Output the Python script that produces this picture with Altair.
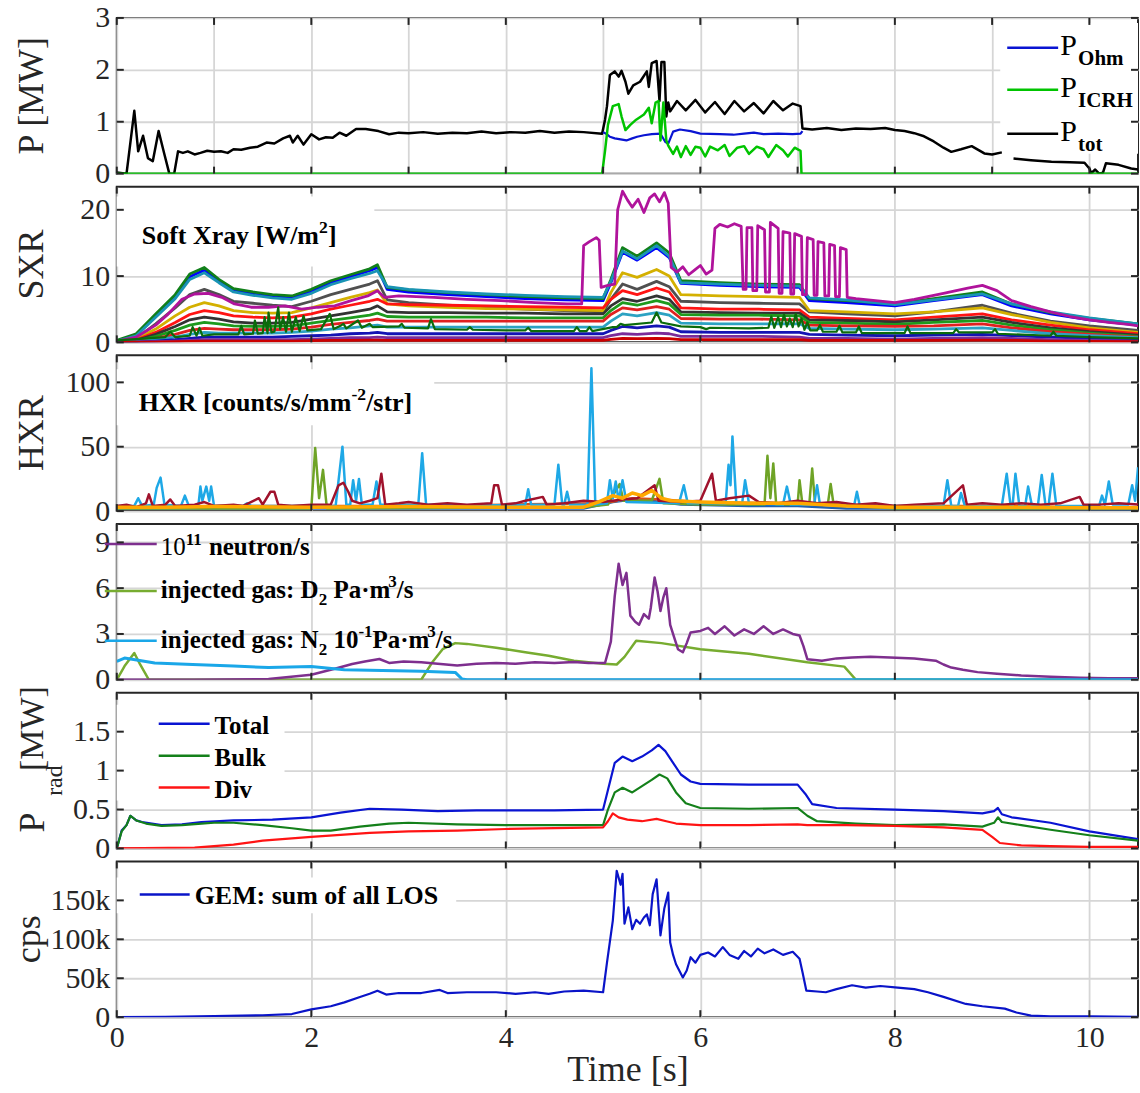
import altair as alt
import pandas as pd

FONT = "Liberation Serif"
INK = "#262626"
W, H = 1023, 156
XMAX = 10.5

# ---------------- data ----------------
# Panel 1 : heating power [MW]
P_TOT = [(0, 0.02), (0.1, 0.0), (0.12, 0.3), (0.18, 1.21), (0.22, 0.43), (0.27, 0.73), (0.32, 0.30), (0.37, 0.24),
         (0.43, 0.82), (0.49, 0.37), (0.54, 0.0), (0.59, 0.0), (0.63, 0.43), (0.68, 0.40), (0.73, 0.43), (0.8, 0.37),
         (0.86, 0.40), (0.93, 0.44), (1.0, 0.42), (1.07, 0.43), (1.14, 0.40), (1.2, 0.47), (1.28, 0.46), (1.37, 0.50),
         (1.45, 0.52), (1.54, 0.60), (1.62, 0.58), (1.71, 0.68), (1.78, 0.73), (1.81, 0.60), (1.86, 0.73), (1.92, 0.56),
         (2.0, 0.76), (2.08, 0.66), (2.15, 0.70), (2.22, 0.69), (2.29, 0.79), (2.36, 0.73), (2.46, 0.86), (2.56, 0.86),
         (2.69, 0.82), (2.8, 0.76), (2.9, 0.79), (3.0, 0.78), (3.15, 0.80), (3.3, 0.77), (3.45, 0.79), (3.6, 0.78),
         (3.75, 0.81), (3.9, 0.78), (4.05, 0.80), (4.2, 0.79), (4.35, 0.82), (4.5, 0.79), (4.65, 0.81), (4.8, 0.80),
         (4.99, 0.77), (5.02, 1.04), (5.04, 1.30), (5.07, 1.90), (5.12, 1.97), (5.16, 1.87), (5.19, 1.98), (5.23, 1.77),
         (5.26, 1.54), (5.31, 1.70), (5.38, 1.77), (5.45, 1.97), (5.47, 1.67), (5.5, 2.13), (5.55, 2.17), (5.58, 1.40),
         (5.6, 2.15), (5.63, 2.15), (5.65, 1.10), (5.67, 1.37), (5.69, 1.20), (5.76, 1.40), (5.85, 1.22), (5.95, 1.42),
         (6.05, 1.18), (6.15, 1.38), (6.25, 1.15), (6.35, 1.40), (6.45, 1.20), (6.55, 1.36), (6.65, 1.16), (6.75, 1.40),
         (6.85, 1.22), (6.95, 1.35), (7.03, 1.30), (7.05, 0.87), (7.15, 0.85), (7.3, 0.88), (7.45, 0.84), (7.6, 0.87),
         (7.75, 0.86), (7.9, 0.88), (8.0, 0.84), (8.1, 0.82), (8.2, 0.78), (8.3, 0.72), (8.4, 0.62), (8.5, 0.50),
         (8.58, 0.42), (8.68, 0.47), (8.79, 0.53), (8.92, 0.39), (9.0, 0.37), (9.1, 0.41)]
P_TOT_TAIL = [(9.22, 0.29), (9.4, 0.26), (9.61, 0.23), (9.8, 0.22), (9.95, 0.21), (10.0, 0.1), (10.02, 0.01),
              (10.06, 0.08), (10.1, 0.0), (10.14, 0.02), (10.17, 0.2), (10.3, 0.17), (10.43, 0.1), (10.5, 0.08)]
P_OHM = [(5.0, 0.8), (5.04, 0.76), (5.07, 0.71), (5.12, 0.68), (5.18, 0.66), (5.24, 0.64), (5.3, 0.68), (5.35, 0.71),
         (5.42, 0.74), (5.5, 0.76), (5.59, 0.77), (5.64, 0.61), (5.67, 0.58), (5.72, 0.81), (5.79, 0.85), (5.9, 0.82),
         (6.0, 0.77), (6.2, 0.76), (6.34, 0.75), (6.45, 0.77), (6.55, 0.79), (6.65, 0.76), (6.8, 0.77), (6.95, 0.76),
         (7.03, 0.77), (7.05, 0.82)]
P_ICRH = [(0, 0), (4.99, 0), (5.02, 0.44), (5.05, 0.94), (5.1, 1.3), (5.16, 1.34), (5.19, 1.1), (5.23, 0.84),
          (5.28, 0.94), (5.34, 1.04), (5.42, 1.14), (5.47, 1.27), (5.5, 0.97), (5.54, 1.37), (5.57, 1.4), (5.59, 0.64),
          (5.62, 1.37), (5.65, 0.64), (5.67, 0.54), (5.72, 0.38), (5.76, 0.52), (5.8, 0.32), (5.85, 0.53), (5.9, 0.36),
          (5.95, 0.52), (6.0, 0.5), (6.05, 0.33), (6.1, 0.52), (6.18, 0.45), (6.25, 0.55), (6.3, 0.34), (6.38, 0.5),
          (6.45, 0.53), (6.5, 0.38), (6.58, 0.52), (6.65, 0.47), (6.7, 0.32), (6.78, 0.55), (6.85, 0.45), (6.9, 0.33),
          (6.97, 0.5), (7.03, 0.44), (7.04, 0.0), (10.5, 0.0)]

# Panel 2 : soft X-ray channels on a common time grid
SXR_T = [0, 0.2, 0.4, 0.6, 0.75, 0.9, 1.05, 1.2, 1.4, 1.6, 1.8, 2.0, 2.2, 2.4, 2.6, 2.68, 2.78, 3.0, 3.4, 3.8,
         4.2, 4.6, 5.0, 5.08, 5.2, 5.35, 5.55, 5.68, 5.8, 6.2, 6.6, 7.02, 7.12, 7.5, 8.0, 8.4, 8.9, 9.2, 9.6, 10.0, 10.5]
SXR_BLUE = [0.2, 1.1, 4.0, 6.9, 9.9, 10.9, 9.2, 7.8, 7.3, 6.9, 6.7, 7.7, 9.0, 9.9, 10.8, 11.3, 8.0, 7.6, 7.2, 6.9,
            6.6, 6.4, 6.3, 9.0, 13.6, 12.4, 14.3, 12.8, 8.9, 8.6, 8.4, 8.3, 6.3, 6.0, 5.5, 6.3, 7.2, 5.5, 4.3, 3.4, 2.6]
SXR_GREEN = [0.3, 1.3, 4.3, 7.2, 10.3, 11.3, 9.5, 8.1, 7.6, 7.2, 7.0, 8.0, 9.3, 10.2, 11.1, 11.7, 8.3, 7.9, 7.5, 7.2,
             6.9, 6.7, 6.6, 9.5, 14.3, 13.0, 15.0, 13.5, 9.3, 9.0, 8.8, 8.7, 6.6, 6.3, 5.8, 6.6, 7.6, 5.8, 4.5, 3.6, 2.8]
SXR_TEAL = [0.2, 1.0, 3.8, 6.6, 9.5, 10.5, 9.0, 7.6, 7.1, 6.7, 6.5, 7.4, 8.7, 9.6, 10.4, 10.8, 8.4, 8.0, 7.6, 7.3,
            7.1, 6.9, 6.8, 9.2, 13.8, 12.6, 14.6, 13.0, 9.0, 8.8, 8.6, 8.5, 6.7, 6.4, 5.7, 6.4, 7.3, 5.8, 4.6, 3.7, 2.8]
SXR_GREY1 = [0.1, 0.6, 2.8, 5.2, 7.2, 8.0, 7.2, 6.2, 5.9, 5.6, 5.4, 6.2, 7.2, 8.0, 8.8, 9.3, 6.4, 6.0, 5.6, 5.3,
             5.0, 4.8, 4.6, 6.5, 8.8, 8.0, 9.2, 8.4, 6.2, 6.0, 5.9, 5.8, 4.6, 4.3, 4.0, 4.6, 5.6, 4.4, 3.2, 2.5, 1.8]
SXR_YELLOW = [0.1, 0.5, 2.0, 4.0, 5.3, 6.0, 5.5, 4.8, 4.5, 4.4, 4.5, 5.2, 6.0, 6.8, 7.5, 7.9, 5.8, 5.5, 5.3, 5.1,
              5.0, 4.9, 4.8, 7.5, 10.5, 9.8, 11.0, 10.0, 7.2, 7.0, 6.9, 6.8, 4.8, 4.6, 4.3, 4.6, 5.2, 4.2, 3.0, 2.2, 1.5]
SXR_RED1 = [0.1, 0.4, 1.5, 3.0, 4.2, 4.8, 4.5, 4.0, 3.8, 3.7, 3.8, 4.3, 5.0, 5.6, 6.2, 6.5, 5.8, 5.7, 5.6, 5.5,
            5.4, 5.3, 5.2, 6.5, 7.8, 7.2, 8.2, 7.6, 5.2, 5.0, 5.0, 4.9, 3.8, 3.6, 3.4, 3.8, 4.3, 3.4, 2.6, 1.9, 1.3]
SXR_GREY2 = [0.1, 0.3, 1.2, 2.4, 3.4, 3.8, 3.5, 3.1, 2.9, 2.9, 3.0, 3.5, 4.0, 4.5, 5.0, 5.5, 4.6, 4.5, 4.5, 4.4,
             4.4, 4.3, 4.3, 5.5, 6.6, 6.2, 7.0, 6.5, 4.6, 4.5, 4.4, 4.4, 3.4, 3.3, 3.1, 3.4, 3.8, 3.0, 2.2, 1.6, 1.1]
SXR_GREEN2 = [0.05, 0.2, 0.9, 1.8, 2.6, 3.0, 2.8, 2.5, 2.4, 2.4, 2.5, 2.9, 3.3, 3.7, 4.1, 4.4, 3.9, 3.8, 3.8, 3.8,
              3.7, 3.7, 3.7, 4.8, 6.0, 5.6, 6.3, 5.8, 4.2, 4.1, 4.1, 4.0, 3.0, 2.9, 2.7, 3.0, 3.3, 2.6, 1.9, 1.4, 0.9]
SXR_RED2 = [0.05, 0.15, 0.6, 1.2, 1.8, 2.1, 2.0, 1.9, 1.9, 1.9, 2.0, 2.3, 2.7, 3.0, 3.3, 3.5, 3.2, 3.2, 3.2, 3.2,
            3.2, 3.2, 3.2, 4.2, 5.2, 4.9, 5.4, 5.0, 3.6, 3.5, 3.5, 3.4, 2.6, 2.5, 2.4, 2.5, 2.8, 2.2, 1.6, 1.2, 0.8]
SXR_TEAL2 = [0.03, 0.1, 0.4, 0.8, 1.2, 1.5, 1.4, 1.4, 1.4, 1.4, 1.5, 1.7, 2.0, 2.2, 2.5, 2.6, 2.3, 2.3, 2.3, 2.3,
             2.3, 2.3, 2.3, 3.2, 4.3, 4.0, 4.5, 4.1, 2.9, 2.8, 2.8, 2.8, 2.1, 2.0, 1.9, 2.0, 2.2, 1.8, 1.3, 1.0, 0.7]
SXR_BLUE2 = [0.02, 0.05, 0.2, 0.4, 0.6, 0.8, 0.8, 0.8, 0.8, 0.8, 0.9, 1.0, 1.1, 1.3, 1.4, 1.5, 1.3, 1.3, 1.3, 1.3,
             1.3, 1.3, 1.3, 1.8, 2.4, 2.2, 2.5, 2.3, 1.6, 1.5, 1.5, 1.5, 1.2, 1.1, 1.0, 1.1, 1.2, 1.0, 0.8, 0.6, 0.4]
SXR_PURPLE = [0.01, 0.03, 0.1, 0.2, 0.3, 0.4, 0.4, 0.4, 0.4, 0.4, 0.4, 0.5, 0.6, 0.7, 0.7, 0.8, 0.7, 0.7, 0.7, 0.7,
              0.7, 0.7, 0.7, 1.0, 1.3, 1.2, 1.4, 1.3, 0.9, 0.9, 0.9, 0.8, 0.6, 0.6, 0.5, 0.6, 0.7, 0.6, 0.4, 0.3, 0.2]
SXR_RED3 = [0.0, 0.02, 0.05, 0.1, 0.15, 0.2, 0.2, 0.2, 0.2, 0.2, 0.2, 0.25, 0.3, 0.3, 0.35, 0.35, 0.3, 0.3, 0.3, 0.3,
            0.3, 0.3, 0.3, 0.45, 0.6, 0.55, 0.6, 0.55, 0.4, 0.4, 0.4, 0.4, 0.3, 0.3, 0.3, 0.3, 0.35, 0.3, 0.2, 0.15, 0.1]
SXR_MAGENTA = [(0, 0.2), (0.2, 0.8), (0.4, 2.6), (0.53, 4.3), (0.67, 6.5), (0.8, 7.3), (0.94, 7.4), (1.08, 6.8),
               (1.21, 5.8), (1.38, 5.3), (1.56, 5.3), (1.73, 5.5), (1.9, 5.0), (2.07, 5.3), (2.24, 5.5), (2.41, 6.3),
               (2.58, 7.0), (2.68, 7.8), (2.75, 6.8), (2.9, 7.0), (3.26, 6.8), (3.6, 6.5), (3.95, 6.3), (4.3, 6.0),
               (4.63, 5.8), (4.78, 5.8), (4.8, 14.6), (4.86, 15.2), (4.93, 15.8), (4.96, 15.4), (4.98, 8.3),
               (5.05, 8.6), (5.12, 8.8), (5.15, 20.0), (5.2, 22.8), (5.25, 21.5), (5.3, 20.4), (5.36, 21.6),
               (5.42, 19.6), (5.48, 21.8), (5.53, 22.4), (5.58, 21.2), (5.63, 22.6), (5.67, 21.0), (5.7, 11.3),
               (5.76, 10.6), (5.82, 11.4), (5.88, 10.2), (5.94, 10.9), (6.0, 11.6), (6.06, 10.3), (6.12, 10.9),
               (6.15, 17.2), (6.2, 17.8), (6.28, 17.4), (6.35, 17.9), (6.42, 17.5), (6.44, 8.0), (6.47, 8.0),
               (6.48, 17.3), (6.53, 17.3), (6.54, 7.8), (6.58, 7.8), (6.59, 17.6), (6.66, 17.0), (6.67, 7.6),
               (6.71, 7.6), (6.72, 18.1), (6.8, 17.2), (6.81, 7.4), (6.84, 7.4), (6.85, 16.7), (6.92, 16.5),
               (6.93, 7.3), (6.96, 7.3), (6.97, 16.4), (7.04, 16.0), (7.05, 7.2), (7.09, 7.2), (7.1, 15.8),
               (7.16, 15.5), (7.17, 7.1), (7.2, 7.1), (7.21, 15.2), (7.27, 15.0), (7.28, 7.0), (7.32, 7.0),
               (7.33, 14.8), (7.38, 14.6), (7.39, 6.9), (7.43, 6.9), (7.44, 14.3), (7.5, 14.0), (7.51, 6.8),
               (7.6, 6.6), (7.8, 6.3), (8.0, 6.0), (8.2, 6.5), (8.5, 7.4), (8.75, 8.2), (8.9, 8.6), (9.05, 7.8),
               (9.2, 6.3), (9.4, 5.4), (9.6, 4.6), (9.8, 3.9), (10.0, 3.4), (10.2, 3.0), (10.4, 2.7), (10.5, 2.5)]
SXR_SPIKY = [(0, 0.3), (0.5, 0.8), (0.55, 1.6), (0.6, 0.8), (0.75, 1.0), (0.78, 2.3), (0.82, 1.0), (0.85, 2.2),
             (0.88, 1.0), (1.0, 1.2), (1.25, 1.2), (1.28, 2.5), (1.31, 1.2), (1.4, 1.3), (1.42, 3.3), (1.45, 1.3),
             (1.5, 1.4), (1.52, 3.8), (1.55, 1.4), (1.56, 4.5), (1.59, 1.5), (1.62, 1.6), (1.66, 5.3), (1.68, 2.0),
             (1.71, 3.8), (1.74, 1.6), (1.77, 4.5), (1.8, 1.6), (1.84, 3.8), (1.88, 1.7), (1.92, 4.0), (1.96, 1.8),
             (2.1, 2.0), (2.19, 4.3), (2.23, 2.0), (2.3, 2.5), (2.33, 2.8), (2.36, 2.1), (2.48, 3.3), (2.52, 2.2),
             (2.6, 2.8), (2.63, 2.3), (2.9, 2.4), (2.93, 2.8), (2.96, 2.2), (3.2, 2.1), (3.23, 3.5), (3.27, 2.0),
             (3.6, 1.9), (3.63, 2.3), (3.66, 1.9), (4.0, 1.8), (4.2, 1.8), (4.23, 2.2), (4.26, 1.7), (4.7, 1.7),
             (4.73, 2.3), (4.76, 1.7), (4.83, 1.7), (4.86, 2.3), (4.89, 1.7), (5.1, 2.3), (5.14, 2.3), (5.18, 2.8),
             (5.22, 2.6), (5.5, 3.0), (5.55, 4.5), (5.6, 3.0), (5.8, 2.4), (6.0, 2.3), (6.06, 2.0), (6.1, 2.2),
             (6.5, 2.1), (6.7, 2.2), (6.73, 3.9), (6.76, 2.2), (6.8, 3.8), (6.83, 2.3), (6.86, 4.2), (6.89, 2.4),
             (6.92, 3.6), (6.95, 2.3), (6.98, 4.3), (7.01, 2.4), (7.04, 3.6), (7.07, 1.9), (7.1, 3.0), (7.13, 1.8),
             (7.2, 1.8), (7.23, 2.6), (7.26, 1.6), (7.4, 1.6), (7.43, 2.5), (7.46, 1.5), (7.6, 1.5), (7.63, 2.4),
             (7.66, 1.4), (8.1, 1.4), (8.13, 2.4), (8.16, 1.4), (8.6, 1.4), (8.63, 2.0), (8.66, 1.5), (9.0, 1.5),
             (9.03, 2.0), (9.06, 1.3), (9.6, 1.0), (9.63, 1.6), (9.66, 1.0), (10.0, 0.8), (10.5, 0.6)]

# Panel 3 : hard X-ray
HXR_LIGHTBLUE = [(0, 4), (0.18, 4), (0.22, 10), (0.26, 4), (0.38, 5), (0.41, 18), (0.45, 26), (0.49, 5), (0.66, 4),
                 (0.7, 12), (0.74, 4), (0.84, 5), (0.86, 19), (0.88, 8), (0.92, 19), (0.95, 8), (0.97, 19), (1.0, 4),
                 (1.3, 4), (1.34, 6), (1.38, 4), (2.25, 4), (2.32, 50), (2.36, 5), (2.4, 5), (2.43, 24), (2.46, 8),
                 (2.49, 25), (2.52, 5), (2.63, 5), (2.67, 23), (2.71, 5), (3.1, 5), (3.14, 45), (3.18, 5), (3.4, 5),
                 (3.5, 4), (4.2, 5), (4.23, 17), (4.26, 5), (4.5, 5), (4.54, 36), (4.58, 5), (4.6, 5), (4.63, 15),
                 (4.66, 5), (4.84, 5), (4.88, 111), (4.92, 5), (5.04, 6), (5.07, 24), (5.1, 10), (5.13, 23), (5.16, 8),
                 (5.2, 24), (5.24, 7), (5.78, 6), (5.83, 20), (5.87, 6), (6.26, 6), (6.29, 36), (6.31, 20), (6.33, 58),
                 (6.37, 6), (6.43, 6), (6.46, 24), (6.5, 6), (6.85, 5), (6.89, 19), (6.93, 5), (7.17, 5), (7.2, 20),
                 (7.23, 5), (7.58, 4), (7.61, 15), (7.64, 4), (8.5, 4), (8.54, 24), (8.58, 4), (8.65, 4), (8.68, 14),
                 (8.72, 4), (9.1, 4), (9.15, 29), (9.19, 4), (9.21, 4), (9.24, 29), (9.28, 4), (9.34, 4), (9.37, 19),
                 (9.41, 4), (9.47, 4), (9.51, 28), (9.55, 4), (9.58, 4), (9.62, 29), (9.66, 4), (10.1, 4), (10.13, 12),
                 (10.16, 5), (10.2, 23), (10.24, 5), (10.4, 5), (10.44, 20), (10.47, 8), (10.5, 34)]
HXR_DARKRED = [(0, 4), (0.1, 5), (0.2, 3), (0.3, 6), (0.33, 13), (0.37, 4), (0.5, 5), (0.55, 9), (0.6, 4), (0.8, 5),
               (0.9, 7), (1.0, 4), (1.2, 5), (1.3, 4), (1.46, 10), (1.5, 5), (1.58, 15), (1.62, 15), (1.66, 5),
               (1.8, 4), (2.0, 5), (2.2, 5), (2.28, 20), (2.33, 22), (2.38, 15), (2.42, 8), (2.5, 6), (2.6, 8),
               (2.68, 10), (2.72, 29), (2.76, 5), (2.9, 6), (3.0, 7), (3.2, 5), (3.4, 6), (3.6, 5), (3.85, 6),
               (3.88, 20), (3.92, 20), (3.96, 5), (4.1, 6), (4.2, 8), (4.38, 11), (4.42, 5), (4.6, 6), (4.8, 8),
               (5.0, 7), (5.2, 9), (5.35, 10), (5.53, 20), (5.57, 8), (5.8, 7), (6.0, 8), (6.12, 29), (6.16, 8),
               (6.3, 10), (6.5, 12), (6.6, 7), (6.8, 6), (7.0, 8), (7.2, 6), (7.4, 7), (7.6, 5), (7.8, 6), (8.0, 4),
               (8.2, 5), (8.5, 6), (8.7, 20), (8.74, 5), (8.9, 6), (9.1, 5), (9.3, 6), (9.5, 5), (9.7, 6), (9.9, 11),
               (9.94, 5), (10.1, 5), (10.3, 6), (10.5, 5)]
HXR_GREEN = [(0, 2), (2.0, 2), (2.04, 49), (2.08, 10), (2.12, 32), (2.16, 2), (4.8, 3), (5.05, 5), (5.1, 12),
             (5.17, 21), (5.21, 8), (5.5, 8), (5.58, 25), (5.62, 6), (6.0, 5), (6.66, 5), (6.69, 43), (6.72, 10),
             (6.75, 37), (6.78, 5), (7.0, 5), (7.02, 24), (7.05, 5), (7.12, 5), (7.15, 33), (7.18, 5), (7.31, 5),
             (7.34, 21), (7.37, 5), (8.0, 2), (10.5, 2)]
HXR_REDORANGE = [(0, 3), (1, 4), (2, 4), (3, 4), (4, 5), (5, 6), (5.3, 10), (5.6, 9), (6, 7), (7, 6), (8, 4),
                 (9, 4), (10, 3), (10.5, 3)]
HXR_BLUE = [(0, 2), (4.8, 2), (5.1, 7), (5.3, 9), (5.5, 8), (5.8, 5), (6.5, 4), (7, 4), (7.5, 2), (10.5, 1.5)]
HXR_ORANGE = [(0, 3), (0.5, 3), (1, 3.5), (2, 3), (3, 3.5), (4, 3), (4.8, 3), (4.95, 7), (5.1, 12), (5.2, 10),
              (5.3, 14), (5.4, 12), (5.5, 16), (5.6, 10), (5.7, 8), (6.0, 7), (6.5, 6), (7.0, 6), (7.5, 4), (8, 3),
              (9, 3), (10, 2.5), (10.5, 2.5)]

# Panel 4 : neutrons and gas injection
NEUTRON = [(0, 0), (0.8, 0), (1.56, 0.05), (2.0, 0.33), (2.27, 0.77), (2.42, 1.03), (2.55, 1.2), (2.7, 1.36),
           (2.8, 1.1), (2.95, 1.2), (3.13, 1.14), (3.3, 1.05), (3.5, 0.94), (3.7, 1.05), (3.9, 1.1), (4.1, 1.05),
           (4.3, 1.15), (4.5, 1.1), (4.7, 1.16), (4.85, 1.1), (5.02, 1.1), (5.08, 2.5), (5.12, 5.5), (5.16, 7.6),
           (5.2, 6.2), (5.24, 7.0), (5.28, 4.2), (5.33, 3.8), (5.37, 3.6), (5.42, 4.3), (5.47, 4.0), (5.49, 4.7),
           (5.53, 6.7), (5.56, 5.8), (5.59, 4.5), (5.62, 5.4), (5.65, 6.0), (5.69, 3.6), (5.73, 2.8), (5.77, 2.0),
           (5.82, 1.8), (5.86, 2.4), (5.9, 3.1), (6.0, 3.2), (6.08, 3.4), (6.15, 3.0), (6.25, 3.5), (6.35, 2.9),
           (6.45, 3.3), (6.55, 3.0), (6.65, 3.5), (6.75, 3.0), (6.85, 3.3), (6.95, 3.0), (7.02, 2.9), (7.06, 2.2),
           (7.1, 1.35), (7.25, 1.25), (7.4, 1.4), (7.56, 1.46), (7.75, 1.5), (7.95, 1.46), (8.2, 1.4), (8.42, 1.25),
           (8.5, 1.0), (8.58, 0.8), (8.7, 0.65), (8.85, 0.5), (9.05, 0.4), (9.3, 0.28), (9.6, 0.2), (9.9, 0.13),
           (10.2, 0.1), (10.5, 0.1)]
GAS_D2 = [(0, 0), (0.08, 0.9), (0.18, 1.75), (0.24, 1.0), (0.33, 0), (3.13, 0), (3.25, 1.2), (3.35, 2.0),
          (3.48, 2.4), (3.6, 2.35), (3.9, 2.1), (4.2, 1.8), (4.44, 1.57), (4.7, 1.25), (5.0, 1.05), (5.14, 1.0),
          (5.22, 1.5), (5.34, 2.55), (5.6, 2.4), (6.0, 2.0), (6.5, 1.7), (7.1, 1.14), (7.48, 0.86), (7.6, 0),
          (9.95, 0), (10.0, 0.15), (10.05, 0), (10.5, 0)]
GAS_N2 = [(0, 1.2), (0.08, 1.42), (0.39, 1.1), (0.78, 1.0), (1.2, 0.9), (1.56, 0.8), (2.0, 0.87), (2.34, 0.65),
          (2.73, 0.6), (3.13, 0.55), (3.48, 0.48), (3.55, 0.05), (3.6, 0), (10.5, 0)]

# Panel 5 : radiated power [MW]
PRAD_TOTAL = [(0, 0), (0.05, 0.23), (0.1, 0.3), (0.14, 0.42), (0.2, 0.36), (0.26, 0.34), (0.46, 0.3), (0.67, 0.31),
              (0.87, 0.34), (1.2, 0.36), (1.6, 0.37), (2.0, 0.4), (2.3, 0.46), (2.6, 0.51), (2.93, 0.5), (3.3, 0.48),
              (3.7, 0.49), (4.1, 0.49), (4.5, 0.49), (5.0, 0.5), (5.05, 0.75), (5.12, 1.1), (5.2, 1.18), (5.3, 1.12),
              (5.4, 1.18), (5.5, 1.26), (5.57, 1.33), (5.64, 1.25), (5.72, 1.1), (5.8, 0.95), (5.9, 0.86), (6.0, 0.83),
              (6.5, 0.82), (7.0, 0.82), (7.08, 0.7), (7.15, 0.57), (7.4, 0.52), (8.0, 0.5), (8.5, 0.48), (8.9, 0.45),
              (9.02, 0.48), (9.06, 0.52), (9.1, 0.44), (9.2, 0.4), (9.6, 0.33), (10.0, 0.22), (10.5, 0.12)]
PRAD_BULK = [(0, 0), (0.05, 0.22), (0.1, 0.3), (0.14, 0.42), (0.2, 0.36), (0.3, 0.32), (0.46, 0.29), (0.67, 0.3),
             (0.87, 0.32), (1.0, 0.33), (1.2, 0.33), (1.5, 0.3), (1.8, 0.26), (2.0, 0.23), (2.2, 0.23), (2.5, 0.28),
             (2.8, 0.32), (3.0, 0.33), (3.5, 0.31), (4.0, 0.3), (4.5, 0.3), (5.0, 0.3), (5.05, 0.5), (5.12, 0.72),
             (5.2, 0.78), (5.3, 0.72), (5.4, 0.8), (5.5, 0.88), (5.58, 0.95), (5.66, 0.9), (5.75, 0.72), (5.85, 0.58),
             (6.0, 0.52), (6.5, 0.51), (7.0, 0.52), (7.1, 0.42), (7.2, 0.35), (7.6, 0.32), (8.0, 0.3), (8.5, 0.31),
             (8.9, 0.28), (9.02, 0.33), (9.06, 0.4), (9.1, 0.34), (9.3, 0.3), (9.6, 0.24), (10.0, 0.17), (10.5, 0.1)]
PRAD_DIV = [(0, 0), (0.8, 0.01), (1.2, 0.05), (1.5, 0.1), (2.0, 0.15), (2.6, 0.2), (3.0, 0.22), (3.5, 0.23),
            (4.0, 0.25), (4.5, 0.26), (5.0, 0.27), (5.05, 0.35), (5.1, 0.45), (5.16, 0.4), (5.25, 0.37), (5.4, 0.35),
            (5.55, 0.38), (5.65, 0.35), (5.75, 0.32), (6.0, 0.3), (6.5, 0.3), (7.0, 0.31), (7.1, 0.3), (7.5, 0.3),
            (8.0, 0.29), (8.5, 0.27), (8.9, 0.24), (9.0, 0.15), (9.08, 0.07), (9.3, 0.04), (9.6, 0.03), (10.0, 0.02),
            (10.5, 0.02)]

# Panel 6 : GEM counts [k cps]
GEM = [(0, 0), (0.5, 0.5), (1.0, 1.5), (1.5, 2.5), (1.8, 4), (2.0, 10), (2.2, 14), (2.34, 19), (2.5, 26), (2.6, 30),
       (2.68, 34), (2.77, 29), (2.9, 31), (3.13, 31), (3.32, 35), (3.4, 31), (3.6, 32), (3.9, 32), (4.1, 30),
       (4.3, 32), (4.44, 30), (4.6, 33), (4.8, 34), (5.0, 32), (5.04, 70), (5.1, 124), (5.14, 188), (5.18, 170),
       (5.2, 184), (5.22, 120), (5.26, 141), (5.3, 113), (5.34, 125), (5.38, 120), (5.42, 128), (5.45, 132),
       (5.48, 118), (5.51, 158), (5.55, 177), (5.59, 105), (5.63, 140), (5.67, 160), (5.69, 96), (5.72, 80),
       (5.75, 68), (5.82, 51), (5.86, 60), (5.9, 77), (5.95, 70), (6.0, 80), (6.08, 83), (6.15, 78), (6.23, 90),
       (6.3, 80), (6.39, 75), (6.45, 85), (6.52, 78), (6.59, 88), (6.66, 82), (6.75, 87), (6.85, 80), (6.95, 84),
       (7.02, 75), (7.05, 58), (7.09, 34), (7.2, 33), (7.29, 32), (7.4, 36), (7.56, 41), (7.7, 38), (7.85, 40),
       (8.03, 38), (8.2, 36), (8.34, 32), (8.5, 26), (8.73, 17), (8.9, 14), (9.13, 11), (9.25, 6), (9.4, 2),
       (9.6, 1), (10.0, 1), (10.5, 0.5)]

X_TICKS_1 = [0, 1, 2, 3, 4, 5, 6, 7, 8, 9, 10]
X_TICKS_2 = [0, 2, 4, 6, 8, 10]

# ---------------- helpers ----------------
ONE = pd.DataFrame({"a": [0]})

TB = {' ': 250, ':': 333, '/': 278, '[': 333, ']': 333, '-': 333, '·': 250, '.': 250,
      'a': 500, 'b': 556, 'c': 444, 'd': 556, 'e': 444, 'f': 333, 'g': 500, 'h': 556, 'i': 278, 'j': 333,
      'k': 556, 'l': 278, 'm': 833, 'n': 556, 'o': 500, 'p': 556, 'q': 556, 'r': 444, 's': 389, 't': 333,
      'u': 556, 'v': 500, 'w': 722, 'x': 500, 'y': 500, 'z': 444,
      'A': 722, 'B': 667, 'C': 722, 'D': 722, 'E': 667, 'G': 778, 'H': 778, 'I': 389, 'L': 667, 'M': 944,
      'N': 722, 'O': 778, 'P': 611, 'R': 722, 'S': 556, 'T': 667, 'W': 1000, 'X': 722}


def twidth(s, size, bold=True):
    if not bold:
        return sum(500 if ch.isdigit() else TB.get(ch, 500) for ch in s) / 1000 * size
    return sum(TB.get(ch, 500) for ch in s) / 1000 * size


def xch(labels=False, values=X_TICKS_2):
    ax = dict(values=values, labels=labels, labelFlush=False, labelPadding=5, grid=True, ticks=False,
              domain=False, titlePadding=0)
    return alt.X("t:Q", scale=alt.Scale(domain=[0, XMAX], nice=False, zero=False), axis=alt.Axis(**ax),
                 title=("Time [s]" if labels else None))


def ych(top, values, **extra):
    ax = dict(values=values, labelPadding=7, grid=True, ticks=False, domain=False)
    ax.update(extra)
    return alt.Y("v:Q", scale=alt.Scale(domain=[0, top], nice=False, zero=False), axis=alt.Axis(**ax), title=None)


def line(pairs, color, width, X, Y):
    df = pd.DataFrame(pairs, columns=["t", "v"])
    df["i"] = range(len(df))
    return alt.Chart(df).mark_line(color=color, strokeWidth=width, clip=True, strokeJoin="round").encode(
        x=X, y=Y, order="i:Q")


def grid_line(values, color, width, X, Y):
    return line(list(zip(SXR_T, values)), color, width, X, Y)


def text(s, x, y, size, bold=False, angle=0, align="left", baseline="alphabetic", color="#000000"):
    kw = dict(text=s, font=FONT, fontSize=size, fontWeight=("bold" if bold else "normal"), color=color,
              align=align, baseline=baseline)
    if angle:
        kw["angle"] = angle
    return alt.Chart(ONE).mark_text(**kw).encode(x=alt.value(x), y=alt.value(y))


def rich(parts, x, y, size):
    """Place text pieces one after another (normal / superscript / subscript)."""
    layers = []
    for part in parts:
        s, kind = part[0], part[1]
        bold = part[2] if len(part) > 2 else True
        fs = size if kind == "n" else size * 0.68
        yy = y if kind == "n" else (y - size * 0.42 if kind == "sup" else y + size * 0.3)
        lead = len(s) - len(s.lstrip(" "))
        x += twidth(" " * lead, fs, bold)
        s = s.lstrip(" ")
        layers.append(text(s, x, yy, fs, bold=bold))
        x += twidth(s, fs, bold)
    return layers


def box(x1, x2, y1, y2):
    return alt.Chart(ONE).mark_rect(color="white").encode(
        x=alt.value(x1), x2=alt.value(x2), y=alt.value(y1), y2=alt.value(y2))


def seg(x1, x2, y, color, width=2.5):
    return alt.Chart(ONE).mark_rule(color=color, strokeWidth=width).encode(
        x=alt.value(x1), x2=alt.value(x2), y=alt.value(y))


def inner_ticks(xvals, yvals, X, Y, L=7):
    dx = pd.DataFrame({"t": xvals})
    dy = pd.DataFrame({"v": yvals})
    m = dict(color=INK, strokeWidth=2)
    return [
        alt.Chart(dx).mark_rule(**m).encode(x=X, y=alt.value(0), y2=alt.value(L)),
        alt.Chart(dx).mark_rule(**m).encode(x=X, y=alt.value(H), y2=alt.value(H - L)),
        alt.Chart(dy).mark_rule(**m).encode(y=Y, x=alt.value(0), x2=alt.value(L)),
        alt.Chart(dy).mark_rule(**m).encode(y=Y, x=alt.value(W), x2=alt.value(W - L)),
    ]


def ytitle(s, x=-85):
    return text(s, x, H / 2, 36, angle=270, align="center", baseline="middle", color=INK)


# ---------------- panel 1 ----------------
X1 = xch(values=X_TICKS_1)
Y1 = ych(3, [0, 1, 2, 3])
p1 = [box(885, W, 5, 136),
      line(P_TOT, "#000000", 2.5, X1, Y1), line(P_TOT_TAIL, "#000000", 2.5, X1, Y1),
      line(P_OHM, "#0a14d2", 2.2, X1, Y1), line(P_ICRH, "#00c400", 2.5, X1, Y1),
      ytitle("P [MW]")]
for ry, sub, col in [(30, "Ohm", "#0a14d2"), (72, "ICRH", "#00c400"), (116, "tot", "#000000")]:
    p1.append(seg(892, 943, ry, col))
    p1.append(text("P", 945, ry + 7, 30))
    p1.append(text(sub, 963, ry + 17, 21, bold=True))
p1 += inner_ticks(X_TICKS_1, [0, 1, 2, 3], X1, Y1)

# ---------------- panel 2 ----------------
X2 = xch()
Y2 = ych(23.5, [0, 10, 20])
p2 = [box(0, 258, 10, 80)]
for vals, col in [(SXR_BLUE, "#0000ff"), (SXR_GREEN, "#11801a"), (SXR_TEAL, "#1994b4"), (SXR_GREY1, "#505050"),
                  (SXR_YELLOW, "#d4b000"), (SXR_RED1, "#ff1414"), (SXR_GREY2, "#333333"),
                  (SXR_GREEN2, "#1d9a1d"), (SXR_RED2, "#e02020"), (SXR_TEAL2, "#2ca2c2"),
                  (SXR_BLUE2, "#1414b4"), (SXR_PURPLE, "#7b2c9a"), (SXR_RED3, "#cc0000")]:
    p2.append(grid_line(vals, col, 2.8, X2, Y2))
p2.append(line(SXR_MAGENTA, "#b0139b", 2.8, X2, Y2))
p2.append(line(SXR_SPIKY, "#0b6b0b", 2.2, X2, Y2))
p2 += rich([("Soft Xray [W/m", "n"), ("2", "sup"), ("]", "n")], 25, 57, 26)
p2.append(ytitle("SXR"))
p2 += inner_ticks(X_TICKS_2, [0, 10, 20], X2, Y2)

# ---------------- panel 3 ----------------
X3 = xch()
Y3 = ych(121, [0, 50, 100])
p3 = [box(0, 318, 14, 70),
      line(HXR_BLUE, "#2060b0", 2.5, X3, Y3), line(HXR_REDORANGE, "#d95319", 2.5, X3, Y3),
      line(HXR_GREEN, "#6ea326", 2.5, X3, Y3), line(HXR_LIGHTBLUE, "#1ea8e6", 2.5, X3, Y3),
      line(HXR_DARKRED, "#a0122c", 2.5, X3, Y3), line(HXR_ORANGE, "#ffa800", 3.5, X3, Y3)]
p3 += rich([("HXR [counts/s/mm", "n"), ("-2", "sup"), ("/str]", "n")], 22, 56, 26)
p3.append(ytitle("HXR"))
p3 += inner_ticks(X_TICKS_2, [0, 50, 100], X3, Y3)

# ---------------- panel 4 ----------------
X4 = xch()
Y4 = ych(10.2, [0, 3, 6, 9])
p4 = [line(GAS_D2, "#77ac30", 2.5, X4, Y4), line(NEUTRON, "#7e2f8e", 2.5, X4, Y4),
      line(GAS_N2, "#1aa7e8", 3, X4, Y4)]
p4.append(seg(-12, 40, 20, "#7e2f8e"))
p4.append(seg(-12, 40, 67, "#77ac30"))
p4.append(seg(-12, 40, 117, "#1aa7e8"))
p4 += rich([("10", "n", False), ("11", "sup"), (" neutron/s", "n")], 44, 31, 25)
p4 += rich([("injected gas: D", "n"), ("2", "sub"), (" Pa·m", "n"), ("3", "sup"), ("/s", "n")], 44, 74, 25)
p4 += rich([("injected gas: N", "n"), ("2", "sub"), (" 10", "n"), ("-1", "sup"), ("Pa·m", "n"), ("3", "sup"),
            ("/s", "n")], 44, 124, 25)
p4 += inner_ticks(X_TICKS_2, [0, 3, 6, 9], X4, Y4)

# ---------------- panel 5 ----------------
X5 = xch()
Y5 = ych(2.0, [0, 0.5, 1, 1.5], format="~g")
p5 = [box(0, 168, 12, 108),
      line(PRAD_TOTAL, "#0a14d2", 2.2, X5, Y5), line(PRAD_BULK, "#14801a", 2.2, X5, Y5),
      line(PRAD_DIV, "#ff1414", 2.2, X5, Y5)]
for ry, lab, col in [(31, "Total", "#0a14d2"), (63, "Bulk", "#14801a"), (95, "Div", "#ff1414")]:
    p5.append(seg(42, 93, ry, col))
    p5.append(text(lab, 98, ry + 10, 25, bold=True))
p5.append(text("P", -84, 130, 36, angle=270, align="center", baseline="middle", color=INK))
p5.append(text("rad", -62, 88, 24, angle=270, align="center", baseline="middle", color=INK))
p5.append(text("[MW]", -84, 36, 34, angle=270, align="center", baseline="middle", color=INK))
p5 += inner_ticks(X_TICKS_2, [0, 0.5, 1, 1.5], X5, Y5)

# ---------------- panel 6 ----------------
X6 = xch(labels=True)
Y6 = ych(200, [0, 50, 100, 150], labelExpr="datum.value == 0 ? '0' : datum.value + 'k'")
p6 = [box(0, 340, 16, 52), line(GEM, "#0a14c8", 2.2, X6, Y6),
      seg(23, 73, 33, "#0a14c8"), text("GEM: sum of all LOS", 78, 43, 26, bold=True),
      ytitle("cps", -88)]
p6 += inner_ticks(X_TICKS_2, [0, 50, 100, 150], X6, Y6)

panels = [alt.layer(*p).properties(width=W, height=H) for p in [p1, p2, p3, p4, p5, p6]]

chart = alt.vconcat(*panels, spacing=13, bounds="flush").properties(
    padding={"left": 10, "top": 1, "right": 0, "bottom": 0}, background="white"
).configure_view(stroke=INK, strokeWidth=2).configure_axis(
    labelFont=FONT, labelFontSize=30, labelColor=INK, titleFont=FONT, titleFontSize=36,
    titleFontWeight="normal", titleColor=INK, gridColor="#d6d6d6", gridWidth=1.8
)

chart.save("out.html", embed_options={"renderer": "svg", "actions": False})
